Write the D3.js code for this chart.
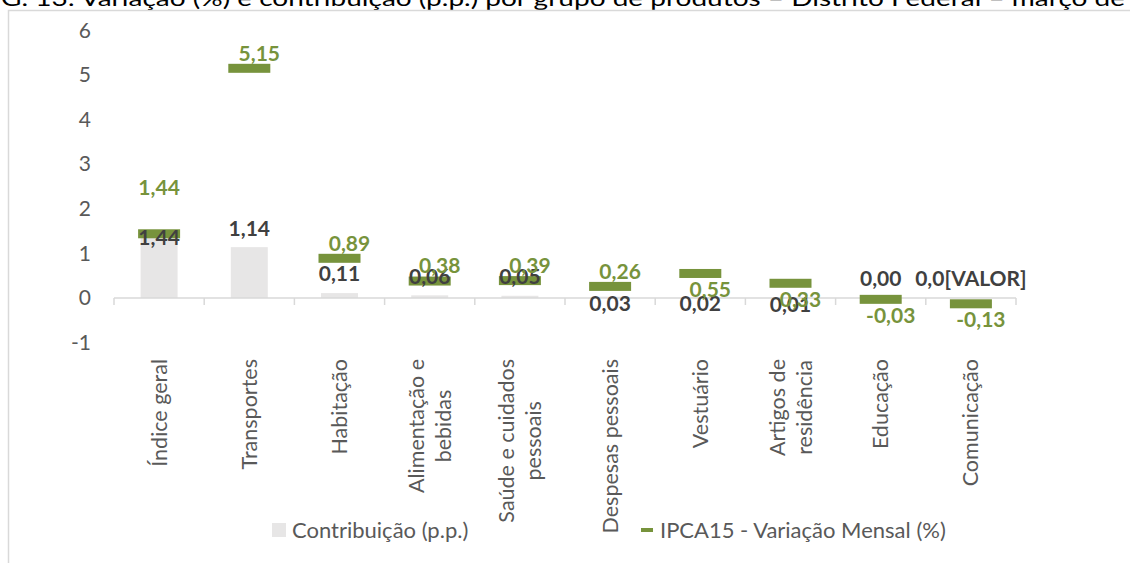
<!DOCTYPE html>
<html>
<head>
<meta charset="utf-8">
<script src="https://cdn.jsdelivr.net/npm/d3@7"></script>
<style>
  body { margin: 0; background: #fff; }
  svg { display: block; font-family: Lato, "Open Sans", sans-serif; }
</style>
</head>
<body>
<svg id="chart" width="1130" height="563"></svg>
<script>
// data
let categories = ["Índice geral", "Transportes", "Habitação", "Alimentação e bebidas",
    "Saúde e cuidados pessoais", "Despesas pessoais", "Vestuário", "Artigos de residência",
    "Educação", "Comunicação"];
let categoryLines = [["Índice geral"], ["Transportes"], ["Habitação"], ["Alimentação e", "bebidas"],
    ["Saúde e cuidados", "pessoais"], ["Despesas pessoais"], ["Vestuário"], ["Artigos de", "residência"],
    ["Educação"], ["Comunicação"]];
let contribuicao = [1.44, 1.14, 0.11, 0.06, 0.05, 0.03, 0.02, 0.01, 0.00, 0.00];
let variacao = [1.44, 5.15, 0.89, 0.38, 0.39, 0.26, 0.55, 0.33, -0.03, -0.13];
let yTicks = [-1, 0, 1, 2, 3, 4, 5, 6];
let contribLabelOverride = { "Comunicação": "0,0[VALOR]" };

let seriesNames = ["Contribuição (p.p.)", "IPCA15 - Variação Mensal (%)"];
let title = "G. 13: Variação (%) e contribuição (p.p.) por grupo de produtos – Distrito Federal – março de";

// label placement (as in the original chart, some were moved by hand)
let contribLabelPos = ["inside", "above", "above", "above", "above", "below", "below", "below", "above", "above"];
let variacaoLabelPos = ["high", "above", "above", "above", "above", "above", "below", "below", "below", "below"];

let grey = "#e7e6e6",
    green = "#77933c",
    darkText = "#404040",
    axisText = "#595959",
    lineGrey = "#d9d9d9";

let fmt = d3.formatLocale({ decimal: ",", thousands: ".", grouping: [3], currency: ["", ""], minus: "-" }).format(".2f");

let svg = d3.select("#chart");

// title, cut by the top of the picture
svg.append("text")
    .attr("x", 1)
    .attr("y", 6)
    .attr("font-size", 22)
    .attr("fill", "#000")
    .attr("textLength", 1124)
    .attr("lengthAdjust", "spacingAndGlyphs")
    .text(title);

// chart frame
svg.append("path")
    .attr("d", "M8.5,563 V10.5 H1140")
    .attr("fill", "none")
    .attr("stroke", lineGrey)
    .attr("stroke-width", 1.5);

let x = d3.scaleBand().domain(categories).range([114, 1016]);
let y = d3.scaleLinear().domain([-1, 6]).range([342.6, 30.4]);

// y axis labels
let yAxis = d3.axisLeft(y).tickValues(yTicks).tickSize(0).tickPadding(0).tickFormat(d => String(d));
svg.append("g")
    .attr("transform", "translate(91,0)")
    .call(yAxis)
    .call(g => g.select(".domain").remove())
    .selectAll("text")
    .attr("font-family", "Lato, sans-serif")
    .attr("font-size", 21)
    .attr("fill", axisText);

// contribution bars
let barW = x.bandwidth() * 0.41;
svg.append("g").selectAll("rect")
    .data(contribuicao)
    .join("rect")
    .attr("x", (d, i) => x(categories[i]) + x.bandwidth() / 2 - barW / 2)
    .attr("y", d => y(Math.max(0, d)))
    .attr("width", barW)
    .attr("height", d => Math.abs(y(d) - y(0)))
    .attr("fill", grey);

// category axis with ticks between groups
let axisG = svg.append("g").attr("stroke", lineGrey).attr("stroke-width", 1.5);
axisG.append("line")
    .attr("x1", x.range()[0]).attr("x2", x.range()[1])
    .attr("y1", y(0)).attr("y2", y(0));
let bounds = categories.map(c => x(c)).concat([x.range()[1]]);
axisG.selectAll(".tick")
    .data(bounds)
    .join("line")
    .attr("x1", d => d).attr("x2", d => d)
    .attr("y1", y(0)).attr("y2", y(0) + 7);

// variation markers (dash)
let markW = 42, markH = 9;
svg.append("g").selectAll("rect")
    .data(variacao)
    .join("rect")
    .attr("x", (d, i) => x(categories[i]) + x.bandwidth() / 2 - markW / 2)
    .attr("y", d => y(d) - markH / 2)
    .attr("width", markW)
    .attr("height", markH)
    .attr("fill", green);

// labels for contribution
let contribOffset = { inside: 4, above: -19, below: 7 };
svg.append("g").selectAll("text")
    .data(contribuicao)
    .join("text")
    .attr("x", (d, i) => x(categories[i]) + x.bandwidth() / 2)
    .attr("y", (d, i) => y(d) + contribOffset[contribLabelPos[i]])
    .attr("dy", "0.35em")
    .attr("text-anchor", "middle")
    .attr("font-size", 21)
    .attr("font-weight", "bold")
    .attr("fill", darkText)
    .text((d, i) => contribLabelOverride[categories[i]] || fmt(d));

// labels for variation
let varOffset = { high: -46, above: -15, below: 16 };
svg.append("g").selectAll("text")
    .data(variacao)
    .join("text")
    .attr("x", (d, i) => x(categories[i]) + x.bandwidth() / 2 + (variacaoLabelPos[i] == "high" ? 0 : 10))
    .attr("y", (d, i) => y(d) + varOffset[variacaoLabelPos[i]])
    .attr("dy", "0.35em")
    .attr("text-anchor", "middle")
    .attr("font-size", 21)
    .attr("font-weight", "bold")
    .attr("fill", green)
    .text(d => fmt(d));

// rotated category labels
let lineGap = 27;
let catG = svg.append("g");
categoryLines.forEach(function(lines, i) {
    let cx = x(categories[i]) + x.bandwidth() / 2;
    let t = catG.append("text")
        .attr("font-size", 21.5)
        .attr("fill", axisText)
        .attr("text-anchor", "middle");
    lines.forEach(function(l, j) {
        t.append("tspan")
            .attr("x", 0)
            .attr("y", (j - (lines.length - 1) / 2) * lineGap)
            .attr("dy", "0.35em")
            .text(l);
    });
    let maxLen = d3.max(t.selectAll("tspan").nodes(), n => n.getComputedTextLength());
    t.attr("transform", "translate(" + cx + "," + (359 + maxLen / 2) + ") rotate(-90)");
});

// legend
let leg = svg.append("g").attr("font-size", 22).attr("fill", axisText);
leg.append("rect").attr("x", 272).attr("y", 523).attr("width", 14).attr("height", 14).attr("fill", grey);
leg.append("text").attr("x", 292).attr("y", 530).attr("dy", "0.35em").text(seriesNames[0]);
leg.append("rect").attr("x", 641).attr("y", 528).attr("width", 12).attr("height", 4).attr("fill", green);
leg.append("text").attr("x", 660).attr("y", 530).attr("dy", "0.35em").text(seriesNames[1]);
</script>
</body>
</html>
